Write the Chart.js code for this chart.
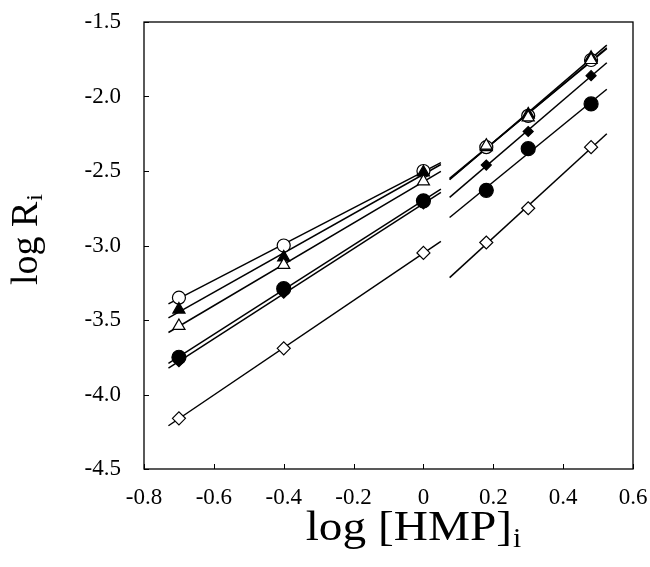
<!DOCTYPE html>
<html><head><meta charset="utf-8">
<script src="https://cdn.jsdelivr.net/npm/chart.js@4/dist/chart.umd.min.js"></script>
<style>html,body{margin:0;padding:0;background:#fff;} #wrap{width:650px;height:567px;position:relative;}</style>
</head><body><div id="wrap"><canvas id="c"></canvas></div>
<script>
// ---- data ----
const xLow = [-0.7, -0.4, 0];
const xHigh = [0.18, 0.3, 0.48];
const openCircleLow = [-3.35, -3.00, -2.50];
const openCircleHigh = [-2.34, -2.13, -1.755];
const filledTriangleLow = [-3.43, -3.08, -2.51];
const filledTriangleHigh = [-2.34, -2.12, -1.74];
const openTriangleLow = [-3.54, -3.13, -2.57];
const openTriangleHigh = [-2.33, -2.14, -1.755];
const filledCircleLow = [-3.75, -3.29, -2.70];
const filledCircleHigh = [-2.63, -2.35, -2.05];
const filledDiamondLow = [-3.78, -3.32, -2.72];
const filledDiamondHigh = [-2.46, -2.235, -1.86];
const openDiamondLow = [-4.16, -3.69, -3.05];
const openDiamondHigh = [-2.98, -2.75, -2.34];
const fitRangeLow = [-0.73, 0.05];
const fitRangeHigh = [0.075, 0.525];
const xTickLabels = ['-0.8','-0.6','-0.4','-0.2','0','0.2','0.4','0.6'];
const yTickLabels = ['-4.5','-4.0','-3.5','-3.0','-2.5','-2.0','-1.5'];
const xTitle = 'log [HMP]';
const xTitleSub = 'i';
const yTitle = 'log R';
const yTitleSub = 'i';

const FONT = '"Liberation Serif", "Times New Roman", serif';

const series = [
  {low: openCircleLow, high: openCircleHigh, style: 'circle', fill: '#ffffff', r: 6.5},
  {low: filledTriangleLow, high: filledTriangleHigh, style: 'triangle', fill: '#000000', r: 7},
  {low: openTriangleLow, high: openTriangleHigh, style: 'triangle', fill: '#ffffff', r: 7},
  {low: filledCircleLow, high: filledCircleHigh, style: 'circle', fill: '#000000', r: 7},
  {low: filledDiamondLow, high: filledDiamondHigh, style: 'rectRot', fill: '#000000', r: 5},
  {low: openDiamondLow, high: openDiamondHigh, style: 'rectRot', fill: '#ffffff', r: 6.5}
];

function fit(xs, ys) {
  const n = xs.length;
  const mx = xs.reduce((a, b) => a + b, 0) / n;
  const my = ys.reduce((a, b) => a + b, 0) / n;
  let sxy = 0, sxx = 0;
  for (let i = 0; i < n; i++) { sxy += (xs[i] - mx) * (ys[i] - my); sxx += (xs[i] - mx) ** 2; }
  const b = sxy / sxx, a = my - b * mx;
  return x => a + b * x;
}

const datasets = [];
series.forEach(s => {
  [[xLow, s.low, fitRangeLow], [xHigh, s.high, fitRangeHigh]].forEach(([xs, ys, rg]) => {
    const f = fit(xs, ys);
    datasets.push({
      data: rg.map(x => ({x: x, y: f(x)})),
      showLine: true, borderColor: '#000', borderWidth: 1.5, pointRadius: 0,
      pointHoverRadius: 0, order: 2
    });
  });
});
series.slice().reverse().forEach(s => {
  const pts = xLow.map((x, i) => ({x: x, y: s.low[i]})).concat(xHigh.map((x, i) => ({x: x, y: s.high[i]})));
  datasets.push({
    data: pts, showLine: false, pointStyle: s.style, pointRadius: s.r,
    pointBackgroundColor: s.fill, pointBorderColor: '#000', pointBorderWidth: 1.2, order: 1
  });
});

const framePlugin = {
  id: 'frame',
  afterDatasetsDraw(chart) {
    const {ctx, chartArea: a, scales} = chart;
    ctx.save();
    ctx.strokeStyle = '#000';
    ctx.lineWidth = 1.3;
    ctx.strokeRect(a.left, a.top, a.right - a.left, a.bottom - a.top);
    ctx.lineWidth = 1;
    ctx.beginPath();
    scales.x.ticks.forEach(t => {
      const px = Math.round(scales.x.getPixelForValue(t.value)) + 0.5;
      ctx.moveTo(px, a.bottom); ctx.lineTo(px, a.bottom - 5);
    });
    scales.y.ticks.forEach(t => {
      const py = Math.round(scales.y.getPixelForValue(t.value)) + 0.5;
      ctx.moveTo(a.left, py); ctx.lineTo(a.left + 5, py);
    });
    ctx.stroke();
    ctx.restore();
  },
  afterDraw(chart) {
    const {ctx} = chart;
    ctx.save();
    ctx.fillStyle = '#000';
    ctx.textBaseline = 'alphabetic';
    ctx.textAlign = 'left';
    // x title
    ctx.save();
    ctx.translate(413, 540);
    ctx.scale(1.1, 1);
    ctx.font = '43px ' + FONT;
    const w1 = ctx.measureText(xTitle).width;
    ctx.font = '27px ' + FONT;
    const w2 = ctx.measureText(xTitleSub).width;
    const x0 = -(w1 + w2) / 2;
    ctx.font = '43px ' + FONT;
    ctx.fillText(xTitle, x0, 0);
    ctx.font = '27px ' + FONT;
    ctx.fillText(xTitleSub, x0 + w1 + 1, 7);
    ctx.restore();
    // y title
    ctx.translate(37, 240);
    ctx.rotate(-Math.PI / 2);
    ctx.font = '38px ' + FONT;
    const v1 = ctx.measureText(yTitle).width;
    ctx.font = '24px ' + FONT;
    const v2 = ctx.measureText(yTitleSub).width;
    const y0 = -(v1 + v2) / 2;
    ctx.font = '38px ' + FONT;
    ctx.fillText(yTitle, y0, 0);
    ctx.font = '24px ' + FONT;
    ctx.fillText(yTitleSub, y0 + v1 + 1, 5);
    ctx.restore();
  }
};

new Chart(document.getElementById('c'), {
  type: 'scatter',
  data: {datasets: datasets},
  options: {
    responsive: true, maintainAspectRatio: false, animation: false,
    layout: {padding: {top: 22, right: 17, left: 0, bottom: 0}},
    plugins: {legend: {display: false}, tooltip: {enabled: false}},
    scales: {
      x: {
        type: 'linear', min: -0.8, max: 0.6,
        ticks: {stepSize: 0.2, color: '#000', padding: 15, maxRotation: 0, autoSkip: false,
          font: {family: FONT, size: 23},
          callback: (v, i) => xTickLabels[i]},
        grid: {display: false, drawTicks: false},
        border: {display: false},
        afterFit: s => { s.height = 98; s.paddingLeft = 0; s.paddingRight = 0; }
      },
      y: {
        type: 'linear', min: -4.5, max: -1.5,
        ticks: {stepSize: 0.5, color: '#000', padding: 23, autoSkip: false,
          font: {family: FONT, size: 23},
          callback: (v, i) => yTickLabels[i]},
        grid: {display: false, drawTicks: false},
        border: {display: false},
        afterFit: s => { s.width = 144; s.paddingTop = 0; s.paddingBottom = 0; }
      }
    }
  },
  plugins: [framePlugin]
});
</script>
</body></html>
